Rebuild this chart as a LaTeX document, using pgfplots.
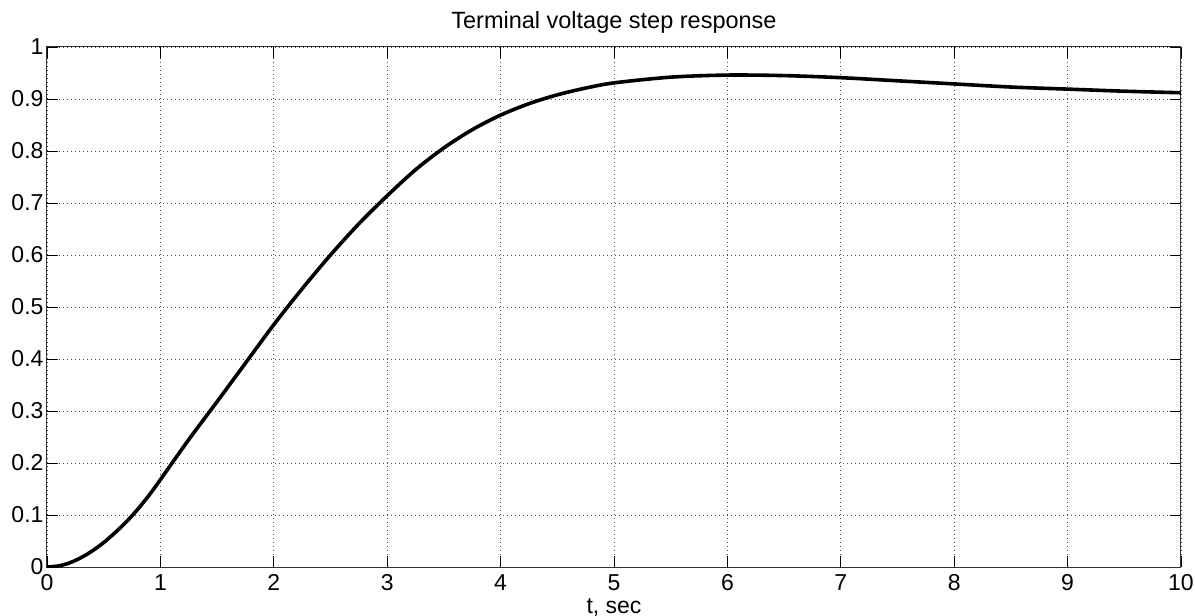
\documentclass[border=0pt]{standalone}
\usepackage{fontspec}
\setmainfont{Liberation Sans}
\usepackage{pgfplots}
\pgfplotsset{compat=1.18}

\begin{document}
\begin{tikzpicture}
\begin{axis}[
    scale only axis,
    width=1134pt,
    height=520pt,
    xmin=0, xmax=10,
    ymin=0, ymax=1,
    xtick={0,1,...,10},
    ytick={0,0.1,...,1},
    tick align=inside,
    xtick pos=both,
    ytick pos=both,
    major tick length=11pt,
    tick style={black, line width=0.8pt},
    axis line style={black!80, line width=1pt},
    grid=major,
    major grid style={black!70, line width=0.8pt, dash pattern=on 1pt off 3pt},
    /pgf/number format/assume math mode=true,
    tick label style={font=\fontsize{23}{26}\selectfont},
    xticklabel style={anchor=base, yshift=-23pt},
    yticklabel style={xshift=0pt},
    title={Terminal voltage step response},
    title style={font=\fontsize{23.5}{26}\selectfont, at={(axis description cs:0.5,1)}, anchor=base, yshift=12pt},
    xlabel={t, sec},
    xlabel style={font=\fontsize{23}{26}\selectfont, at={(axis description cs:0.5,0)}, anchor=base, yshift=-46pt},
]
% step response
\addplot[black, line width=3.6pt, smooth] coordinates {
    (0,0) (0.1,0.002) (0.2,0.008) (0.3,0.018) (0.4,0.031)
    (0.5,0.047) (0.6,0.066) (0.7,0.087) (0.8,0.111) (0.9,0.138) (1,0.168)
    (1.25,0.245) (1.5,0.318) (1.75,0.392) (2,0.466)
    (2.25,0.535) (2.5,0.600) (2.75,0.660) (3,0.714)
    (3.25,0.764) (3.5,0.806) (3.75,0.841) (4,0.869)
    (4.25,0.891) (4.5,0.908) (4.75,0.921) (5,0.931)
    (5.5,0.942) (6,0.946) (6.5,0.945) (7,0.941)
    (7.5,0.935) (8,0.929) (8.5,0.923) (9,0.919)
    (9.5,0.915) (10,0.912)
};
\end{axis}
\pgfresetboundingbox
\path[use as bounding box] (-47pt,-49pt) rectangle (1148pt,567pt);
\end{tikzpicture}
\end{document}
